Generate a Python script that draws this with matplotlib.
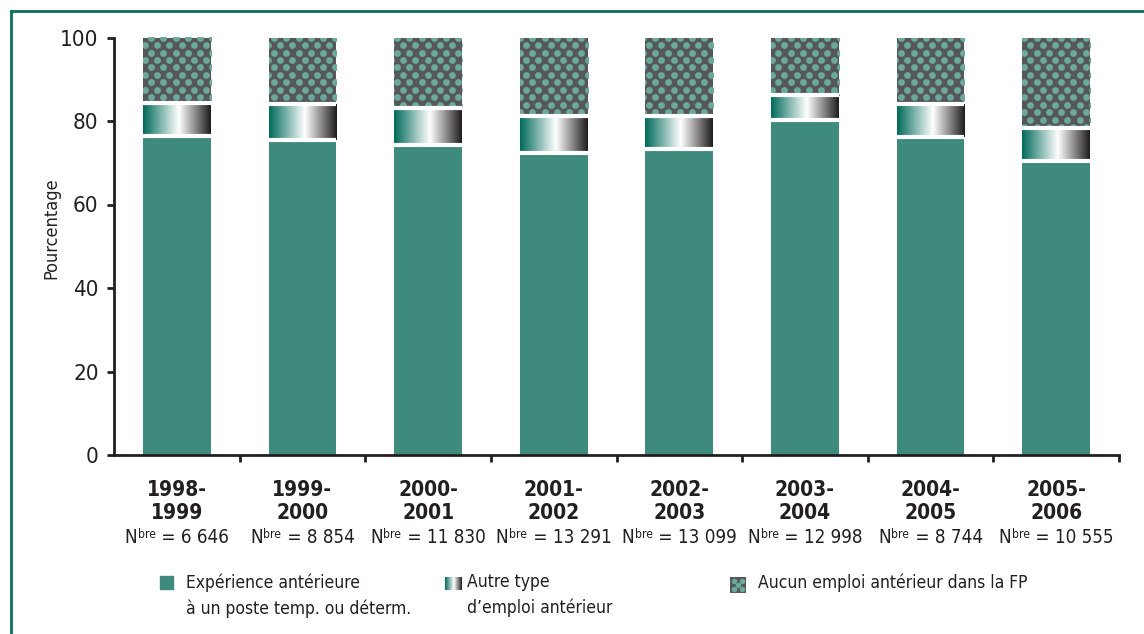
import numpy as np
import matplotlib.pyplot as plt
from matplotlib import font_manager
from matplotlib.colors import LinearSegmentedColormap
from matplotlib.patches import Rectangle
from matplotlib.lines import Line2D
from matplotlib.offsetbox import TextArea, HPacker, AnnotationBbox

# police étroite si disponible
police, etroit = 'DejaVu Sans', False
for f in font_manager.fontManager.ttflist:
    if ('condensed' in str(f.stretch) or 'Narrow' in f.name or 'Condensed' in f.name):
        police, etroit = f.name, True
        break
plt.rcParams['font.family'] = [police, 'DejaVu Sans']
if etroit:
    plt.rcParams['font.stretch'] = 'condensed'

# Données : répartition (%) des nouveaux employés selon l'expérience antérieure
periodes = ['1998-\n1999', '1999-\n2000', '2000-\n2001', '2001-\n2002',
            '2002-\n2003', '2003-\n2004', '2004-\n2005', '2005-\n2006']
effectifs = ['6 646', '8 854', '11 830', '13 291', '13 099', '12 998', '8 744', '10 555']
experience_temp = [76.4, 75.5, 74.2, 72.3, 73.2, 80.2, 76.2, 70.4]
autre_emploi = [7.9, 8.6, 9.0, 8.9, 8.1, 6.0, 7.8, 7.9]
aucun_emploi = [15.7, 15.9, 16.8, 18.8, 18.7, 13.8, 16.0, 21.7]

TEAL = '#3e8a7c'
GRIS = '#55575a'
POINT = '#6aa99b'
ENCRE = '#231f20'
CADRE = '#0b6e5f'

degrade = LinearSegmentedColormap.from_list(
    'degrade', [(0, '#006a5a'), (0.53, '#ffffff'), (1, '#1f1c1d')])
grad = np.linspace(0, 1, 256).reshape(1, -1)

W, H = 1144, 634
fig = plt.figure(figsize=(W / 100, H / 100), dpi=100)
ax = fig.add_axes([114 / W, 1 - 455 / H, (1119 - 114) / W, (455 - 37.5) / H])

x = np.arange(len(periodes))
largeur = 0.54
exp = np.array(experience_temp)
autre = np.array(autre_emploi)
haut_autre = exp + autre

# segment inférieur : couleur pleine
ax.bar(x, exp, largeur, color=TEAL, zorder=2)

# segment du milieu : dégradé horizontal
for xi, b, t in zip(x, exp, haut_autre):
    ax.imshow(grad, extent=(xi - largeur / 2, xi + largeur / 2, b, t),
              cmap=degrade, aspect='auto', interpolation='bicubic', zorder=2)

# segment supérieur : fond gris avec motif à pois
hauts = ax.bar(x, aucun_emploi, largeur, bottom=haut_autre, color=GRIS, zorder=2)
dx = 12.3 * 8 / 1005
dy = 7.5 * 100 / 417.5
rangs = np.arange(100, 60, -dy)
px, py = [], []
for k, yr in enumerate(rangs):
    cols = np.arange(-0.5 + (dx / 2 if k % 2 else 0), 7.6, dx)
    px.extend(cols)
    py.extend([yr] * len(cols))
for barre in hauts:
    sc = ax.scatter(px, py, s=24, color=POINT, linewidths=0, zorder=3)
    sc.set_clip_path(barre)

# séparations blanches entre les segments
ax.hlines(exp, x - largeur / 2, x + largeur / 2, color='white', lw=3, zorder=4)
ax.hlines(haut_autre, x - largeur / 2, x + largeur / 2, color='white', lw=3, zorder=4)

ax.set_xlim(-0.5, 7.5)
ax.set_ylim(0, 100)
ax.set_yticks(range(0, 101, 20))
ax.set_xticks(x + 0.5)
ax.set_xticklabels([])
for s in ['top', 'right']:
    ax.spines[s].set_visible(False)
for s in ['left', 'bottom']:
    ax.spines[s].set_linewidth(2)
    ax.spines[s].set_color(ENCRE)

t_grand = 16 if etroit else 14
t_cat = 15 if etroit else 12.5
t_n = 13.5 if etroit else 11.5
t_leg = 12.5 if etroit else 11

ax.tick_params(axis='both', length=5, width=2, color=ENCRE, labelcolor=ENCRE,
               labelsize=t_grand, pad=6)

fig.text(51 / W, 1 - 228 / H, 'Pourcentage', rotation=90, ha='center', va='center',
         fontsize=13 if etroit else 11, color=ENCRE)

for xi, per, n in zip(x, periodes, effectifs):
    ax.annotate(per, xy=(xi, 0), xycoords=('data', 'axes fraction'),
                xytext=(0, -25 * 0.72), textcoords='offset points',
                ha='center', va='top', fontsize=t_cat, fontweight='bold',
                linespacing=1.2, color=ENCRE)
    morceaux = HPacker(children=[
        TextArea('N', textprops=dict(fontsize=t_n, color=ENCRE)),
        TextArea('bre', textprops=dict(fontsize=t_n * 0.65, color=ENCRE)),
        TextArea(' = ' + n, textprops=dict(fontsize=t_n, color=ENCRE)),
    ], align='top', pad=0, sep=0.5)
    ax.add_artist(AnnotationBbox(morceaux, (xi, 0), xycoords=('data', 'axes fraction'),
                                 xybox=(0, -73 * 0.72), boxcoords='offset points',
                                 box_alignment=(0.5, 1), frameon=False, pad=0))

# légende
fig.add_artist(Rectangle((160 / W, 1 - 589 / H), 13 / W, 13 / H,
                         transform=fig.transFigure, color=TEAL))
fig.text(186 / W, 1 - 573 / H, 'Expérience antérieure\nà un poste temp. ou déterm.',
         ha='left', va='top', fontsize=t_leg, linespacing=1.55, color=ENCRE)

ax_g = fig.add_axes([445 / W, 1 - 590 / H, 17 / W, 13 / H])
ax_g.imshow(grad, cmap=degrade, aspect='auto')
ax_g.axis('off')
fig.text(467 / W, 1 - 573 / H, 'Autre type\nd\u2019emploi antérieur',
         ha='left', va='top', fontsize=t_leg, linespacing=1.55, color=ENCRE)

ax_p = fig.add_axes([730 / W, 1 - 593 / H, 16 / W, 16 / H])
ax_p.set_xlim(0, 1)
ax_p.set_ylim(0, 1)
ax_p.set_facecolor(GRIS)
ax_p.scatter([0.25, 0.75, 0.25, 0.75, 0.5], [0.25, 0.25, 0.75, 0.75, 0.5],
             s=16, color=POINT, linewidths=0)
ax_p.set_xticks([])
ax_p.set_yticks([])
for s in ax_p.spines.values():
    s.set_visible(False)
fig.text(758 / W, 1 - 573 / H, 'Aucun emploi antérieur dans la FP',
         ha='left', va='top', fontsize=t_leg, color=ENCRE)

# cadre
fig.add_artist(Line2D([11 / W, 11 / W], [0, 1 - 11 / H], color=CADRE, lw=2,
                      transform=fig.transFigure))
fig.add_artist(Line2D([11 / W, 1], [1 - 11 / H, 1 - 11 / H], color=CADRE, lw=2,
                      transform=fig.transFigure))

fig.savefig('out.png', dpi=100)
